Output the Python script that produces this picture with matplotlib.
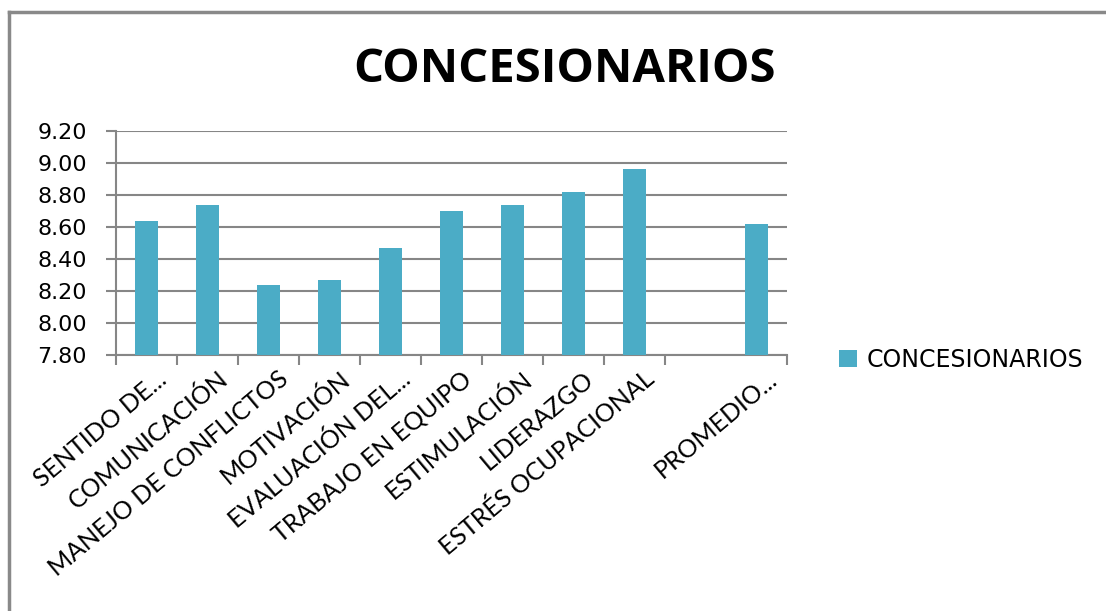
import matplotlib
matplotlib.use('Agg')
import matplotlib.pyplot as plt
from matplotlib.lines import Line2D
from matplotlib.transforms import ScaledTranslation

# Datos del gráfico
categorias = ['SENTIDO DE...', 'COMUNICACIÓN', 'MANEJO DE CONFLICTOS', 'MOTIVACIÓN',
              'EVALUACIÓN DEL...', 'TRABAJO EN EQUIPO', 'ESTIMULACIÓN', 'LIDERAZGO',
              'ESTRÉS OCUPACIONAL', '', 'PROMEDIO...']
valores = [8.64, 8.74, 8.24, 8.27, 8.47, 8.70, 8.74, 8.82, 8.96, None, 8.62]
y_ticks = [7.80, 8.00, 8.20, 8.40, 8.60, 8.80, 9.00, 9.20]
serie = 'CONCESIONARIOS'

azul = '#4BACC6'
gris = '#868686'

fig = plt.figure(figsize=(11.06, 6.11), dpi=100)
ax = fig.add_axes([116/1106, 1 - 355/611, 671/1106, 224/611])

xs = [i for i, v in enumerate(valores) if v is not None]
hs = [v for v in valores if v is not None]
barras = ax.bar(xs, hs, width=0.39, color=azul, label=serie, zorder=3)
ax.set_ylim(7.80, 9.20)
ax.set_xlim(-0.5, len(categorias) - 0.5)

ax.set_yticks(y_ticks)
ax.set_yticklabels(['%.2f' % t for t in y_ticks], fontsize=16, family='DejaVu Sans')
ax.yaxis.grid(True, color=gris, linewidth=1.5, zorder=0)
ax.tick_params(axis='y', length=7, width=1.5, color=gris, pad=14)

# marcas del eje x en los límites de las categorías
limites = [i - 0.5 for i in range(len(categorias) + 1) if i != 10]
ax.set_xticks(limites, minor=True)
ax.set_xticks(range(len(categorias)))
ax.set_xticklabels(categorias, rotation=40, ha='right', va='center',
                   rotation_mode='anchor', fontsize=18, family='Lato')
ax.tick_params(axis='x', which='major', length=0, pad=15)
ax.tick_params(axis='x', which='minor', length=7, width=1.5, color=gris)
desplaza = ScaledTranslation(0.17, 0, fig.dpi_scale_trans)
for lab in ax.get_xticklabels():
    lab.set_transform(lab.get_transform() + desplaza)

for s in ['top', 'right']:
    ax.spines[s].set_visible(False)
for s in ['left', 'bottom']:
    ax.spines[s].set_color(gris)
    ax.spines[s].set_linewidth(1.5)

fig.text(0.51, 0.887, 'CONCESIONARIOS', ha='center', va='center',
         fontsize=34, fontweight='bold', family='Open Sans')

fig.legend(handles=[barras], labels=[serie], loc='center left',
           bbox_to_anchor=(818/1106, 1 - 360/611), frameon=False,
           handlelength=0.75, handleheight=0.75, handletextpad=0.4,
           prop={'family': 'DejaVu Sans', 'size': 17})

# marco exterior del gráfico
fig.add_artist(Line2D([9/1106, 9/1106], [0, 1 - 12/611], transform=fig.transFigure,
                      color='#898989', linewidth=2.5))
fig.add_artist(Line2D([9/1106, 1], [1 - 12/611, 1 - 12/611], transform=fig.transFigure,
                      color='#898989', linewidth=2.5))

fig.savefig('out.png', dpi=100)
